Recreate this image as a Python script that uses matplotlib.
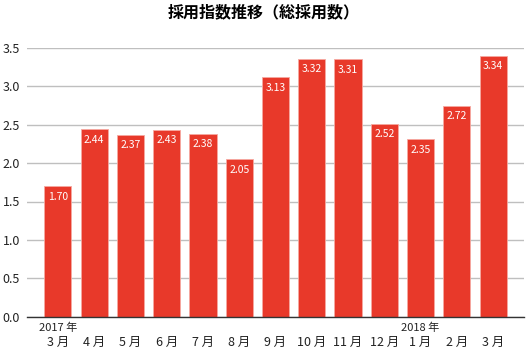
import matplotlib
matplotlib.use("Agg")
import matplotlib.pyplot as plt
import matplotlib.transforms as mtransforms

plt.rcParams['font.family'] = ['Noto Sans CJK JP', 'DejaVu Sans']

# 月ごとの採用指数
months = ["3 月", "4 月", "5 月", "6 月", "7 月", "8 月", "9 月", "10 月", "11 月", "12 月", "1 月", "2 月", "3 月"]
heights = [1.70, 2.44, 2.37, 2.43, 2.38, 2.05, 3.12, 3.36, 3.35, 2.51, 2.31, 2.75, 3.40]
labels = ["1.70", "2.44", "2.37", "2.43", "2.38", "2.05", "3.13", "3.32", "3.31", "2.52", "2.35", "2.72", "3.34"]
years = {0: "2017 年", 10: "2018 年"}
yticks = [0.0, 0.5, 1.0, 1.5, 2.0, 2.5, 3.0, 3.5]

fig = plt.figure(figsize=(5.27, 3.56), dpi=100)
ax = fig.add_axes([27 / 527, 39.3 / 356, 497 / 527, 268.8 / 356])

x = list(range(len(months)))
bars = ax.bar(x, heights, width=0.75, color="#E8392A", edgecolor="#F6A9A0", linewidth=0.6, zorder=3)

for b, lab in zip(bars, labels):
    ax.annotate(lab, (b.get_x() + b.get_width() / 2, b.get_height()),
                xytext=(0, -7.5), textcoords="offset points",
                ha="center", va="center", color="white", fontsize=7.5, zorder=4)

ax.set_xlim(-0.85, 12.85)
ax.set_ylim(0, 3.5)
ax.set_yticks(yticks)
ax.set_yticklabels([f"{v:.1f}" for v in yticks], fontsize=9, color="#222222")
ax.yaxis.grid(True, color="#BFBFBF", linewidth=1.0, zorder=0)
ax.set_axisbelow(True)

ax.set_xticks(x)
ax.set_xticklabels(months, fontsize=9, color="#222222")
ax.tick_params(axis="x", length=0, pad=14)
ax.tick_params(axis="y", length=0, pad=5)

trans = mtransforms.blended_transform_factory(ax.transData, ax.transAxes)
for i, yr in years.items():
    ax.text(i, -0.043, yr, transform=trans, ha="center", va="center", fontsize=8, color="#222222")

for s in ["top", "right", "left"]:
    ax.spines[s].set_visible(False)
ax.spines["bottom"].set_color("#333333")
ax.spines["bottom"].set_linewidth(1.0)
ax.spines["bottom"].set_zorder(5)

fig.text(0.5, 0.965, "採用指数推移（総採用数）", ha="center", va="center", fontsize=11.5, fontweight="bold")

fig.savefig("out.png", dpi=100)
